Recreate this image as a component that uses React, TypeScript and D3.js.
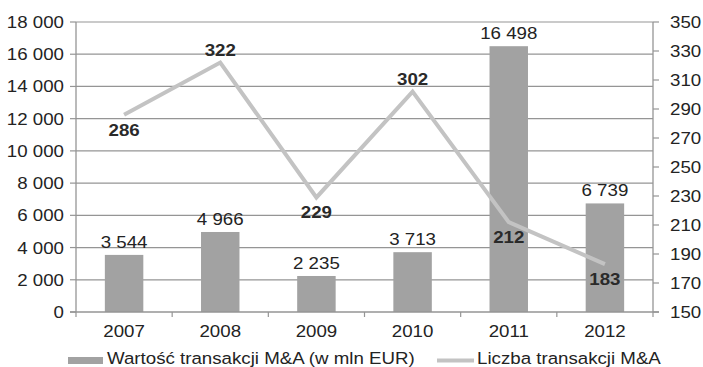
import React from "react";
import * as d3 from "d3";

// Polish M&A market: value of deals (bars, left axis) and number of deals (line, right axis)
const years = ["2007", "2008", "2009", "2010", "2011", "2012"];
const dealValues = [3544, 4966, 2235, 3713, 16498, 6739];
const dealCounts = [286, 322, 229, 302, 212, 183];
// where each count label sits relative to its point
const countLabelPos = ["below", "above", "below", "above", "below", "below"];
const leftTicks = [0, 2000, 4000, 6000, 8000, 10000, 12000, 14000, 16000, 18000];
const rightTicks = [150, 170, 190, 210, 230, 250, 270, 290, 310, 330, 350];
const barLegend = "Wartość transakcji M&A (w mln EUR)";
const lineLegend = "Liczba transakcji M&A";

const W = 703;
const H = 367;
const plot = { left: 76, right: 653, top: 22, bottom: 312 };
const FONT = "'Liberation Sans', Arial, Helvetica, sans-serif";
const FS = 17;
const STRETCH = 1.1; // slightly widened glyphs
const TEXT = "#232323";
const GRID = "#959595";

// thousands with a space separator, e.g. 16 498
const fmt = (v: number) => d3.format(",")(v).replace(/,/g, " ");

type TProps = {
  x: number;
  y: number;
  anchor?: "start" | "middle" | "end";
  bold?: boolean;
  dy?: string;
  fill?: string;
  children: React.ReactNode;
};

function T({ x, y, anchor = "start", bold, dy, fill = TEXT, children }: TProps) {
  return (
    <text
      transform={`translate(${x},${y}) scale(${STRETCH},1)`}
      textAnchor={anchor}
      dy={dy}
      fontSize={FS}
      fontWeight={bold ? "bold" : "normal"}
      fill={fill}
    >
      {children}
    </text>
  );
}

export default function App() {
  const x = d3
    .scaleBand<string>()
    .domain(years)
    .range([plot.left, plot.right])
    .paddingInner(0)
    .paddingOuter(0);
  const yL = d3.scaleLinear().domain([0, 18000]).range([plot.bottom, plot.top]);
  const yR = d3.scaleLinear().domain([150, 350]).range([plot.bottom, plot.top]);

  const barW = x.bandwidth() * 0.4;
  const cx = (y: string) => (x(y) as number) + x.bandwidth() / 2;

  const line = d3
    .line<number>()
    .x((_, i) => cx(years[i]))
    .y((d) => yR(d));

  const boundaries = years.map((y) => x(y) as number).concat([plot.right]);

  return (
    <svg
      width={W}
      height={H}
      style={{ position: "absolute", left: 0, top: 0, background: "#fff" }}
      fontFamily={FONT}
    >
      {/* horizontal gridlines */}
      {leftTicks.slice(1).map((t) => (
        <line
          key={"g" + t}
          x1={plot.left}
          x2={plot.right}
          y1={yL(t)}
          y2={yL(t)}
          stroke={GRID}
          strokeWidth={1.2}
        />
      ))}

      {/* bars */}
      {dealValues.map((v, i) => (
        <rect
          key={"b" + i}
          x={cx(years[i]) - barW / 2}
          y={yL(v)}
          width={barW}
          height={plot.bottom - yL(v)}
          fill="#a2a2a2"
        />
      ))}

      {/* axes */}
      <line x1={plot.left} x2={plot.left} y1={plot.top} y2={plot.bottom} stroke={GRID} strokeWidth={1.3} />
      <line x1={plot.right} x2={plot.right} y1={plot.top} y2={plot.bottom} stroke={GRID} strokeWidth={1.3} />
      <line x1={plot.left - 6} x2={plot.right + 6} y1={plot.bottom} y2={plot.bottom} stroke={GRID} strokeWidth={1.3} />
      {leftTicks.map((t) => (
        <line key={"lt" + t} x1={plot.left - 6} x2={plot.left} y1={yL(t)} y2={yL(t)} stroke={GRID} strokeWidth={1.2} />
      ))}
      {rightTicks.map((t) => (
        <line key={"rt" + t} x1={plot.right} x2={plot.right + 6} y1={yR(t)} y2={yR(t)} stroke={GRID} strokeWidth={1.2} />
      ))}
      {boundaries.map((bx, i) => (
        <line key={"xt" + i} x1={bx} x2={bx} y1={plot.bottom} y2={plot.bottom + 5} stroke={GRID} strokeWidth={1.2} />
      ))}

      {/* tick labels */}
      {leftTicks.map((t) => (
        <T key={"ll" + t} x={plot.left - 12} y={yL(t)} dy="0.35em" anchor="end">
          {fmt(t)}
        </T>
      ))}
      {rightTicks.map((t) => (
        <T key={"rl" + t} x={plot.right + 17} y={yR(t)} dy="0.35em">
          {t}
        </T>
      ))}
      {years.map((y) => (
        <T key={"xl" + y} x={cx(y)} y={plot.bottom + 25} anchor="middle">
          {y}
        </T>
      ))}

      {/* bar value labels */}
      {dealValues.map((v, i) => (
        <T key={"bv" + i} x={cx(years[i])} y={yL(v) - 7} anchor="middle">
          {fmt(v)}
        </T>
      ))}

      {/* deal count line */}
      <path d={line(dealCounts) || ""} fill="none" stroke="#c3c3c3" strokeWidth={4} strokeLinejoin="miter" />
      {dealCounts.map((v, i) => (
        <T
          key={"cv" + i}
          x={cx(years[i])}
          y={countLabelPos[i] === "above" ? yR(v) - 7 : yR(v) + 21}
          anchor="middle"
          bold
          fill="#2a2a2a"
        >
          {v}
        </T>
      ))}

      {/* legend */}
      <rect x={68} y={357} width={35} height={7} fill="#a2a2a2" />
      <T x={107} y={364}>
        {barLegend}
      </T>
      <line x1={437} x2={474} y1={360.5} y2={360.5} stroke="#c3c3c3" strokeWidth={4} />
      <T x={477} y={364}>
        {lineLegend}
      </T>
    </svg>
  );
}
